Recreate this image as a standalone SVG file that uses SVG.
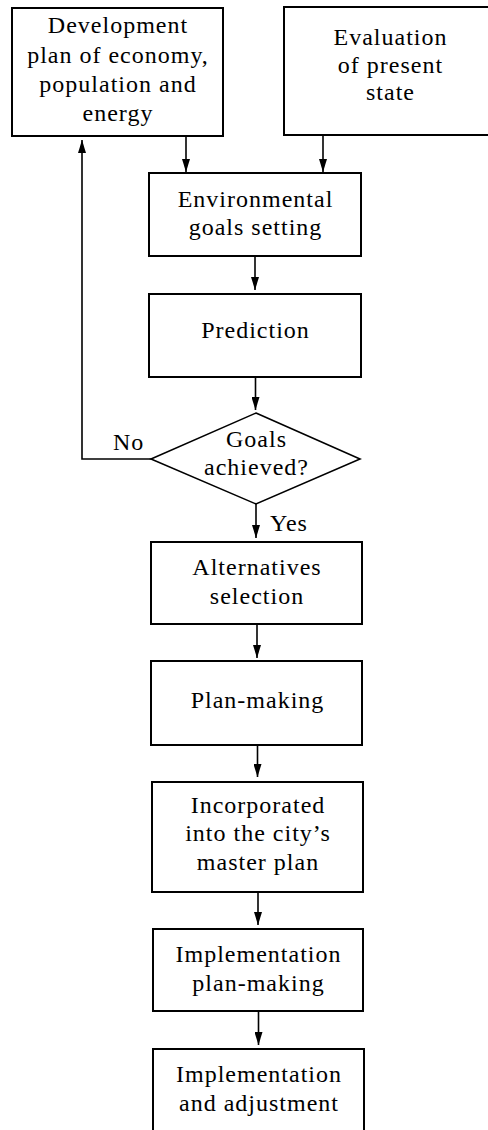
<svg xmlns="http://www.w3.org/2000/svg" width="488" height="1130" viewBox="0 0 488 1130">
<style>
  .box { fill: #fff; stroke: #000; stroke-width: 2; }
  .dia { fill: #fff; stroke: #000; stroke-width: 1.6; }
  .lbl { font-family: "Liberation Serif", "Times New Roman", serif; font-size: 24px; letter-spacing: 1px; fill: #000; text-anchor: middle; }
  .lblL { font-family: "Liberation Serif", "Times New Roman", serif; font-size: 24px; letter-spacing: 1px; fill: #000; }
  .con { fill: none; stroke: #000; stroke-width: 1.6; }
</style>
<defs>
  <marker id="arr" viewBox="0 0 13 8" refX="13" refY="4" markerWidth="13" markerHeight="8" markerUnits="userSpaceOnUse" orient="auto">
    <path d="M0,0 L13,4 L0,8 z" fill="#000"/>
  </marker>
</defs>
<rect width="488" height="1130" fill="#fff"/>

<g id="connectors">
  <path class="con" d="M186,136 V172" marker-end="url(#arr)"/>
  <path class="con" d="M323,135 V172" marker-end="url(#arr)"/>
  <path class="con" d="M255,256 V290" marker-end="url(#arr)"/>
  <path class="con" d="M255.5,377 V410" marker-end="url(#arr)"/>
  <path class="con" d="M151,459 H82 V140" marker-end="url(#arr)"/>
  <path class="con" d="M256,504 V538" marker-end="url(#arr)"/>
  <path class="con" d="M257,624 V658" marker-end="url(#arr)"/>
  <path class="con" d="M257.5,745 V777" marker-end="url(#arr)"/>
  <path class="con" d="M258,892 V925" marker-end="url(#arr)"/>
  <path class="con" d="M258.5,1011 V1045" marker-end="url(#arr)"/>
  <text class="lblL" x="113" y="450">No</text>
  <text class="lblL" x="270" y="531">Yes</text>
</g>

<g id="n1">
  <rect class="box" x="12" y="8" width="211" height="128"/>
  <text class="lbl" x="118" y="33">Development</text>
  <text class="lbl" x="118" y="63">plan of economy,</text>
  <text class="lbl" x="118" y="92">population and</text>
  <text class="lbl" x="118" y="121">energy</text>
</g>

<g id="n2">
  <rect class="box" x="284" y="7" width="212" height="128"/>
  <text class="lbl" x="390.5" y="45">Evaluation</text>
  <text class="lbl" x="390.5" y="73">of present</text>
  <text class="lbl" x="390.5" y="100">state</text>
</g>

<g id="n3">
  <rect class="box" x="149" y="173" width="212" height="83"/>
  <text class="lbl" x="255.5" y="207">Environmental</text>
  <text class="lbl" x="255.5" y="235">goals setting</text>
</g>

<g id="n4">
  <rect class="box" x="149" y="294" width="212" height="83"/>
  <text class="lbl" x="255.5" y="338">Prediction</text>
</g>

<g id="n5">
  <polygon class="dia" points="256,413 360,459 256,504 151,459"/>
  <text class="lbl" x="256.5" y="447">Goals</text>
  <text class="lbl" x="256.5" y="475">achieved?</text>
</g>

<g id="n6">
  <rect class="box" x="151" y="542" width="211" height="82"/>
  <text class="lbl" x="257" y="575">Alternatives</text>
  <text class="lbl" x="257" y="604">selection</text>
</g>

<g id="n7">
  <rect class="box" x="151" y="661" width="211" height="84"/>
  <text class="lbl" x="257.5" y="708">Plan-making</text>
</g>

<g id="n8">
  <rect class="box" x="152" y="782" width="211" height="110"/>
  <text class="lbl" x="258" y="813">Incorporated</text>
  <text class="lbl" x="258" y="841">into the city’s</text>
  <text class="lbl" x="258" y="870">master plan</text>
</g>

<g id="n9">
  <rect class="box" x="153" y="929" width="210" height="82"/>
  <text class="lbl" x="258.5" y="962">Implementation</text>
  <text class="lbl" x="258.5" y="991">plan-making</text>
</g>

<g id="n10">
  <rect class="box" x="153" y="1049" width="211" height="86"/>
  <text class="lbl" x="259" y="1082">Implementation</text>
  <text class="lbl" x="259" y="1111">and adjustment</text>
</g>
</svg>
